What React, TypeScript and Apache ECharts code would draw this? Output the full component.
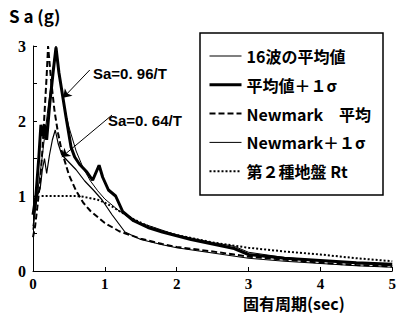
import React, { useEffect, useRef } from "react";
import * as echarts from "echarts";

// 16波の平均値 (thin solid)
const meanT = [0, 0.03, 0.06, 0.1, 0.13, 0.16, 0.19, 0.23, 0.27, 0.31, 0.35, 0.4, 0.45, 0.5, 0.6, 0.72, 0.84, 0.96, 1.1, 1.28, 1.5, 1.8, 2.0, 2.5, 3.0, 3.5, 4.0, 4.5, 5.0];
const meanSa = [0.55, 0.8, 1.0, 1.1, 1.35, 1.5, 1.3, 1.55, 1.75, 1.88, 1.7, 1.55, 1.5, 1.45, 1.35, 1.2, 1.08, 0.95, 0.75, 0.52, 0.42, 0.35, 0.31, 0.24, 0.17, 0.13, 0.1, 0.07, 0.05];

// 平均値+1σ (thick solid)
const sigT = [0, 0.04, 0.08, 0.11, 0.14, 0.16, 0.19, 0.23, 0.28, 0.32, 0.36, 0.4, 0.46, 0.53, 0.58, 0.65, 0.75, 0.83, 0.92, 0.97, 1.05, 1.15, 1.25, 1.4, 1.6, 1.8, 2.0, 2.2, 2.5, 2.8, 3.0, 3.5, 4.0, 4.5, 5.0];
const sigSa = [0.75, 1.0, 1.5, 1.95, 1.8, 1.95, 1.75, 2.2, 2.65, 2.98, 2.65, 2.41, 2.05, 1.65, 1.52, 1.42, 1.32, 1.21, 1.41, 1.25, 1.08, 1.0, 0.79, 0.67, 0.58, 0.52, 0.47, 0.42, 0.36, 0.3, 0.22, 0.17, 0.14, 0.11, 0.09];

// Newmark 平均 (dashed)
const nmT = [0, 0.03, 0.06, 0.1, 0.13, 0.16, 0.19, 0.21, 0.25, 0.3, 0.35, 0.4, 0.5, 0.6, 0.7, 0.8, 1.0, 1.2, 1.5, 1.8, 2.0, 2.5, 2.8, 3.0, 3.5, 4.0, 4.5, 5.0];
const nmSa = [0.45, 0.6, 0.85, 1.2, 1.6, 2.1, 2.6, 3.0, 2.56, 2.13, 1.83, 1.6, 1.28, 1.07, 0.91, 0.8, 0.64, 0.53, 0.43, 0.36, 0.32, 0.26, 0.22, 0.19, 0.15, 0.11, 0.08, 0.06];

// Newmark+1σ (thin solid)
const nsT = [0, 0.1, 0.2, 0.26, 0.32, 0.35, 0.4, 0.45, 0.5, 0.6, 0.7, 0.8, 0.9, 1.0, 1.2, 1.5, 2.0, 2.5, 2.8, 3.0, 3.5, 4.0, 4.5, 5.0];
const nsSa = [0.6, 1.3, 2.1, 2.55, 3.0, 2.74, 2.4, 2.13, 1.92, 1.6, 1.37, 1.2, 1.07, 0.96, 0.8, 0.64, 0.48, 0.38, 0.33, 0.25, 0.18, 0.14, 0.1, 0.07];

// 第2種地盤 Rt (dotted)
const rtT = [0.12, 0.6, 0.7, 0.8, 0.9, 1.0, 1.1, 1.2, 1.4, 1.6, 1.8, 2.0, 2.5, 3.0, 3.5, 4.0, 4.5, 5.0];
const rtSa = [1.0, 1.0, 0.99, 0.97, 0.95, 0.91, 0.86, 0.8, 0.69, 0.6, 0.53, 0.48, 0.38, 0.31, 0.26, 0.22, 0.17, 0.13];

const xTicks = [0, 1, 2, 3, 4, 5];
const yTicks = [0, 1, 2, 3];

const names = ["16波の平均値", "平均値＋１σ", "Newmark　平均", "Newmark＋１σ", "第２種地盤 Rt"];

const zip = (t: number[], s: number[]) => t.map((v, i) => [v, s[i]]);

export default function App() {
  const ref = useRef<HTMLDivElement>(null);
  useEffect(() => {
    if (!ref.current) return;
    const chart = echarts.init(ref.current, undefined, { renderer: "svg" });
    const num = "Liberation Sans Narrow";
    const jp = "Noto Sans CJK JP";
    const styles = [
      { color: "#000", width: 1.2, type: "solid" },
      { color: "#000", width: 3, type: "solid" },
      { color: "#000", width: 2, type: [6, 3] },
      { color: "#000", width: 1, type: "solid" },
      { color: "#000", width: 2, type: [2, 2] },
    ];
    chart.setOption({
      animation: false,
      backgroundColor: "#fff",
      color: ["#000", "#000", "#000", "#000", "#000"],
      grid: { left: 33, right: 6, top: 46, bottom: 49 },
      xAxis: {
        type: "value",
        min: xTicks[0],
        max: xTicks[xTicks.length - 1],
        interval: 1,
        axisLine: { lineStyle: { color: "#000", width: 1 } },
        axisTick: { inside: true, length: 4, lineStyle: { color: "#000" } },
        axisLabel: { color: "#000", fontSize: 15, fontWeight: "bold", fontFamily: num, margin: 5 },
        splitLine: { show: false },
      },
      yAxis: {
        type: "value",
        min: yTicks[0],
        max: yTicks[yTicks.length - 1],
        interval: 0.5,
        axisLine: { show: true, lineStyle: { color: "#000", width: 1 } },
        axisTick: { show: true, inside: true, length: 4, lineStyle: { color: "#000" } },
        axisLabel: {
          color: "#000",
          fontSize: 16,
          fontWeight: "bold",
          fontFamily: num,
          margin: 7,
          formatter: (v: number) => (Number.isInteger(v) ? String(v) : ""),
        },
        splitLine: { show: false },
      },
      legend: {
        orient: "vertical",
        left: 208,
        top: 48,
        padding: 0,
        itemWidth: 32,
        itemHeight: 14,
        itemGap: 12.8,
        selectedMode: false,
        data: names.map((n, i) => ({ name: n, lineStyle: styles[i] })),
        itemStyle: { opacity: 0, borderWidth: 0 },
        textStyle: { color: "#000", fontSize: 16, fontWeight: "bold", fontFamily: jp },
      },
      graphic: [
        { type: "rect", shape: { x: 200, y: 33, width: 183, height: 162 }, style: { fill: "none", stroke: "#000", lineWidth: 1.5 }, z: 10 },
        { type: "text", left: 9, top: 7, style: { text: "S a (g)", fontSize: 17, fontWeight: "bold", fontFamily: jp, fill: "#000" } },
        { type: "text", left: 243, top: 295, style: { text: "固有周期(sec)", fontSize: 16, fontWeight: "bold", fontFamily: jp, fill: "#000" } },
        { type: "text", left: 93, top: 66, style: { text: "Sa=0. 96/T", fontSize: 15, fontWeight: "bold", fontFamily: "Liberation Sans", fill: "#000" } },
        { type: "text", left: 108, top: 113, style: { text: "Sa=0. 64/T", fontSize: 15, fontWeight: "bold", fontFamily: "Liberation Sans", fill: "#000" } },
      ],
      series: [
        {
          name: names[0], type: "line", data: zip(meanT, meanSa), symbol: "none",
          lineStyle: styles[0],
          markLine: {
            silent: true, symbol: ["none", "arrow"], symbolSize: 8, label: { show: false },
            lineStyle: { color: "#000", width: 1, type: "solid" },
            data: [
              [{ coord: [0.79, 2.68] }, { coord: [0.42, 2.31] }],
              [{ coord: [1.1, 2.08] }, { coord: [0.4, 1.52] }],
            ],
          },
        },
        { name: names[1], type: "line", data: zip(sigT, sigSa), symbol: "none", lineStyle: styles[1] },
        { name: names[2], type: "line", data: zip(nmT, nmSa), symbol: "none", lineStyle: styles[2] },
        { name: names[3], type: "line", data: zip(nsT, nsSa), symbol: "none", lineStyle: styles[3] },
        { name: names[4], type: "line", data: zip(rtT, rtSa), symbol: "none", lineStyle: styles[4] },
      ],
    });
    return () => chart.dispose();
  }, []);
  return <div ref={ref} style={{ width: 399, height: 320, position: "absolute", left: 0, top: 0 }} />;
}
